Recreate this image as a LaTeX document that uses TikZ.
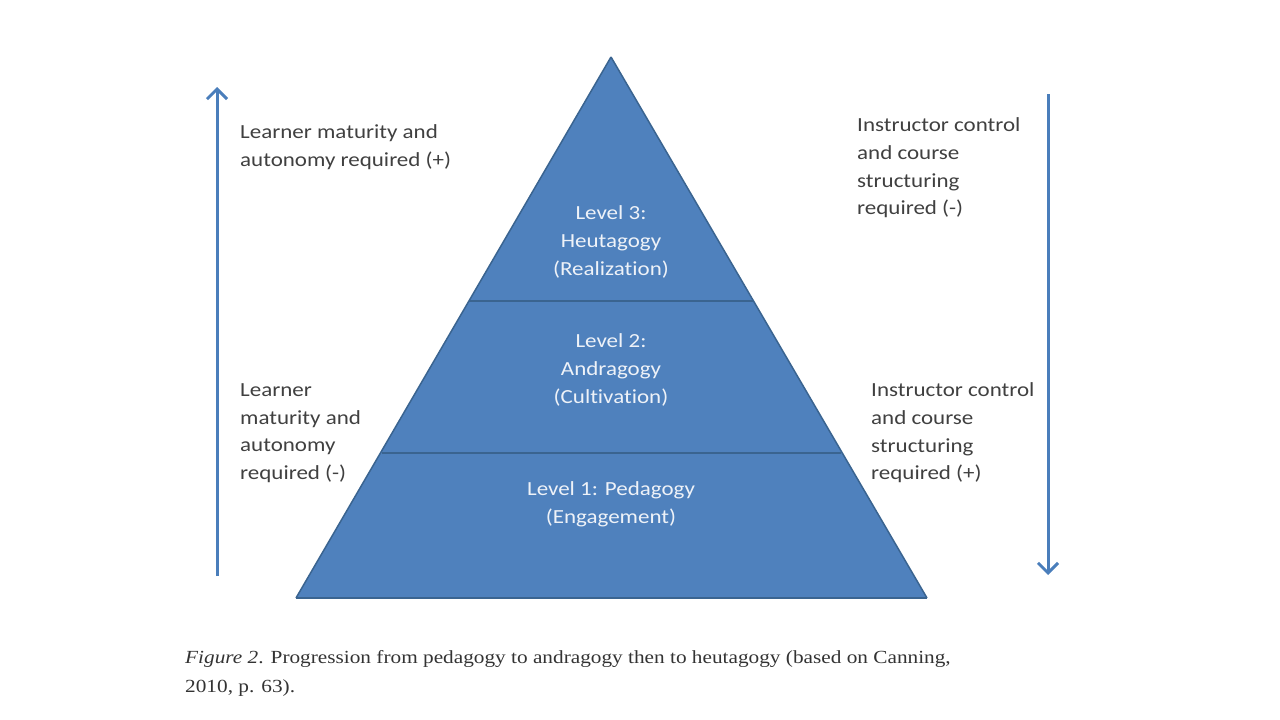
\documentclass[tikz,border=0pt]{standalone}
\usepackage{fontspec}
\setmainfont{Carlito}[FakeStretch=1.15, Ligatures=CommonOff]
\newfontfamily\capfont{Liberation Serif}[FakeStretch=1.15]
\usetikzlibrary{arrows.meta}
\definecolor{pyrfill}{HTML}{4F81BD}
\definecolor{pyredge}{HTML}{3A6490}
\definecolor{arrcol}{HTML}{4A7EBB}
\definecolor{txtcol}{HTML}{404040}
\definecolor{pyrtxt}{HTML}{EEF2F8}
\tikzset{
  lbl/.style={inner sep=0pt, anchor=west, align=left, text=txtcol, font=\fontsize{20}{27.6}\selectfont},
  plbl/.style={inner sep=0pt, align=center, text=pyrtxt, font=\fontsize{20}{27.6}\selectfont},
  tier/.style={fill=pyrfill, draw=pyredge, line width=1.5pt, line join=miter},
  bigarrow/.style={draw=arrcol, line width=3pt, -{Straight Barb[length=10pt,width=20pt,line width=3pt]}},
}
\begin{document}
\begin{tikzpicture}[x=1pt,y=-1pt]
\useasboundingbox (0,0) rectangle (1280,720);
% pyramid geometry
\coordinate (apex) at (611,57);
\coordinate (bl) at (296,598);
\coordinate (br) at (927,598);
\coordinate (l2) at (382,453);
\coordinate (r2) at (841,453);
\coordinate (l3) at (469,301);
\coordinate (r3) at (753,301);
\fill[pyrfill] (apex) -- (bl) -- (br) -- cycle;
\draw[tier, fill=none] (bl) -- (br);
\draw[tier, fill=none] (l2) -- (r2);
\draw[tier, fill=none] (l3) -- (r3);
\draw[tier, fill=none] (apex) -- (bl);
\draw[tier, fill=none] (apex) -- (br);
% pyramid labels
\node[plbl] (t3) at (611,242) {Level 3:\\Heutagogy\\(Realization)};
\node[plbl] (t2) at (611,370) {Level 2:\\Andragogy\\(Cultivation)};
\node[plbl] (t1) at (611,504) {Level 1: Pedagogy\\(Engagement)};
% arrows
\coordinate (la0) at (217,576);
\coordinate (la1) at (217,87);
\coordinate (ra0) at (1048,94);
\coordinate (ra1) at (1048,575);
\draw[bigarrow] (la0) -- (la1);
\draw[bigarrow] (ra0) -- (ra1);
% side labels
\node[lbl] (lt) at (240,147) {Learner maturity and\\autonomy required (+)};
\node[lbl] (lb) at (240,433) {Learner\\maturity and\\autonomy\\required (-)};
\node[lbl] (rt) at (857,168) {Instructor control\\and course\\structuring\\required (-)};
\node[lbl] (rb) at (871,433) {Instructor control\\and course\\structuring\\required (+)};
% caption
\node[inner sep=0pt, anchor=north west, align=left, text=txtcol!80!black, font=\capfont\fontsize{18.5}{29}\selectfont] (cap) at (185,650)
  {\textit{Figure 2}. Progression from pedagogy to andragogy then to heutagogy (based on Canning,\\2010, p. 63).};
\end{tikzpicture}
\end{document}
